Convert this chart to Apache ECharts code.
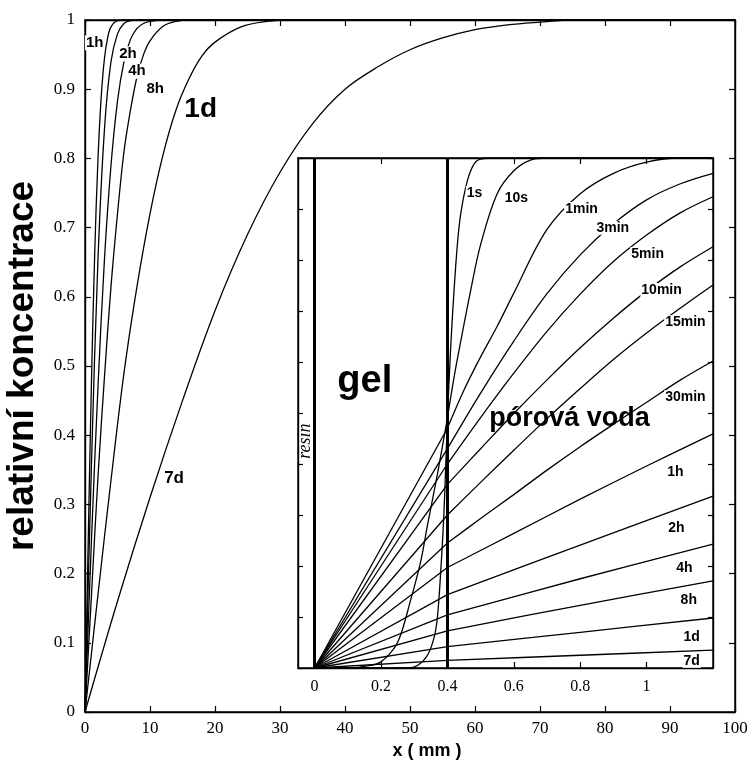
<!DOCTYPE html>
<html>
<head>
<meta charset="utf-8">
<script src="https://cdn.jsdelivr.net/npm/echarts@6/dist/echarts.min.js"></script>
<style>
  html, body { margin: 0; padding: 0; background: #fff; }
  #chart { width: 754px; height: 762px; }
</style>
</head>
<body>
<div id="chart"></div>
<script>
// ---- main panel: relative concentration vs x (mm) ----
const main1h = [[0,0],[0.5,0.25],[1,0.48],[1.5,0.665],[2,0.8],[2.5,0.89],[3,0.945],[3.5,0.975],[4,0.99],[5,0.999],[6,1],[100,1]];
const main2h = [[0,0],[1,0.36],[2,0.655],[3,0.843],[4,0.94],[5,0.98],[6,0.995],[7,0.999],[8,1],[100,1]];
const main4h = [[0,0],[1,0.25],[2,0.47],[3,0.655],[4,0.79],[5,0.883],[6,0.94],[7,0.972],[8,0.988],[9,0.995],[10,0.998],[12,1],[100,1]];
const main8h = [[0,0],[1,0.17],[2,0.34],[3,0.485],[4,0.615],[5,0.72],[6,0.81],[7,0.87],[8,0.918],[9,0.95],[10,0.97],[12,0.991],[14,0.998],[16,1],[100,1]];
const main1d = [[0,0],[2,0.17],[4,0.335],[6,0.49],[8,0.615],[10,0.72],[12,0.805],[14,0.87],[16,0.915],[18,0.948],[20,0.968],[24,0.99],[28,0.998],[32,1],[100,1]];
const main7d = [[0,0],[5,0.16],[10,0.31],[15,0.45],[20,0.58],[25,0.69],[30,0.78],[35,0.85],[40,0.9],[45,0.932],[50,0.957],[55,0.974],[60,0.986],[65,0.993],[70,0.997],[75,1],[100,1]];
const mainCurves = [main1h, main2h, main4h, main8h, main1d, main7d];

const mainLabels = ['1h', '2h', '4h', '8h', '1d', '7d'];
const mainLabelAt = [[1.5,0.967],[6.6,0.951],[8.0,0.926],[10.8,0.9],[17.8,0.871],[13.7,0.338]];
const mainLabelSize = [15, 15, 15, 15, 28, 17];

// ---- inset: resin | gel (0-0.4 mm) | pore water ----
const insetLabels = ['1s','10s','1min','3min','5min','10min','15min','30min','1h','2h','4h','8h','1d','7d'];
const insetLabelAt = [[0.482,0.931],[0.608,0.922],[0.804,0.9],[0.898,0.863],[1.003,0.812],[1.045,0.741],[1.117,0.678],
  [1.117,0.531],[1.087,0.384],[1.09,0.275],[1.114,0.196],[1.127,0.133],[1.136,0.061],[1.136,0.014]];
// concentration at the gel / pore water interface (x = 0.4)
const insetInterface = [0.49,0.49,0.47,0.43,0.40,0.36,0.30,0.245,0.197,0.144,0.104,0.073,0.042,0.015];

const gel1s  = [[0,0],[0.28,0],[0.31,0.005],[0.34,0.025],[0.36,0.06],[0.37,0.1],[0.38,0.19],[0.39,0.31],[0.4,0.49]];
const gel10s = [[0,0],[0.1,0],[0.15,0.003],[0.2,0.012],[0.25,0.05],[0.29,0.135],[0.32,0.21],[0.34,0.28],[0.37,0.38],[0.4,0.49]];

const pore1s    = [[0.4,0.49],[0.41,0.63],[0.42,0.74],[0.43,0.83],[0.44,0.89],[0.46,0.955],[0.48,0.988],[0.5,0.998],[0.55,1],[1.2,1]];
const pore10s   = [[0.4,0.49],[0.42,0.57],[0.44,0.64],[0.47,0.74],[0.5,0.83],[0.55,0.93],[0.6,0.975],[0.65,0.996],[0.7,1],[1.2,1]];
const pore1min  = [[0.4,0.47],[0.45,0.545],[0.5,0.61],[0.55,0.67],[0.6,0.735],[0.7,0.86],[0.8,0.93],[0.9,0.97],[1.0,0.992],[1.1,1],[1.2,1]];
const pore3min  = [[0.4,0.43],[0.5,0.539],[0.6,0.641],[0.7,0.734],[0.8,0.81],[0.9,0.871],[1.0,0.918],[1.1,0.949],[1.2,0.97]];
const pore5min  = [[0.4,0.40],[0.5,0.491],[0.6,0.578],[0.7,0.66],[0.8,0.733],[0.9,0.797],[1.0,0.849],[1.1,0.892],[1.2,0.924]];
const pore10min = [[0.4,0.36],[0.5,0.43],[0.6,0.499],[0.7,0.565],[0.8,0.628],[0.9,0.686],[1.0,0.739],[1.1,0.786],[1.2,0.826]];
const pore15min = [[0.4,0.30],[0.5,0.364],[0.6,0.427],[0.7,0.489],[0.8,0.548],[0.9,0.605],[1.0,0.657],[1.1,0.705],[1.2,0.751]];
const pore30min = [[0.4,0.245],[0.5,0.293],[0.6,0.34],[0.7,0.388],[0.8,0.434],[0.9,0.478],[1.0,0.521],[1.1,0.564],[1.2,0.602]];
const pore1h    = [[0.4,0.197],[0.6,0.264],[0.8,0.331],[1.0,0.396],[1.2,0.459]];
const pore2h    = [[0.4,0.144],[0.8,0.241],[1.2,0.337]];
const pore4h    = [[0.4,0.104],[0.8,0.175],[1.2,0.243]];
const pore8h    = [[0.4,0.073],[0.8,0.123],[1.2,0.171]];
const pore1d    = [[0.4,0.042],[0.8,0.07],[1.2,0.098]];
const pore7d    = [[0.4,0.015],[0.8,0.025],[1.2,0.035]];
const poreCurves = [pore1s, pore10s, pore1min, pore3min, pore5min, pore10min, pore15min, pore30min,
  pore1h, pore2h, pore4h, pore8h, pore1d, pore7d];

const insetXTicks = [0, 0.2, 0.4, 0.6, 0.8, 1];
const gelBoundaries = [0, 0.4];

const chart = echarts.init(document.getElementById('chart'), null, { renderer: 'canvas' });

const serif = 'Liberation Serif';
const sans = 'Liberation Sans';
const black = '#000';

function valueAxis(grid, pos, min, max, interval, showLabel, extra) {
  return Object.assign({
    type: 'value', gridIndex: grid, position: pos, min: min, max: max, interval: interval,
    axisLine: { show: true, onZero: false, lineStyle: { color: black, width: 1.4 } },
    axisTick: { show: true, inside: true, length: 6, lineStyle: { color: black, width: 1.2 } },
    axisLabel: { show: showLabel, color: black, fontFamily: serif, fontSize: 17 },
    splitLine: { show: false }
  }, extra || {});
}

function textLabel(t, size, extra) {
  return Object.assign({
    show: true, position: 'inside', formatter: t, color: black, fontFamily: sans,
    fontWeight: 'bold', fontSize: size, textBorderWidth: 0, textBorderColor: 'transparent', opacity: 1
  }, extra || {});
}

const series = [];

mainCurves.forEach((d) => {
  series.push({
    type: 'line', xAxisIndex: 0, yAxisIndex: 0, data: d, smooth: 0.35,
    showSymbol: false, symbol: 'none', lineStyle: { color: black, width: 1.3 }, z: 3, silent: true
  });
});

series.push({
  type: 'scatter', xAxisIndex: 0, yAxisIndex: 0, symbolSize: 0, z: 6, silent: true,
  itemStyle: { color: black, opacity: 1 },
  data: mainLabels.map((t, i) => ({
    value: mainLabelAt[i], name: t,
    label: textLabel(t, mainLabelSize[i], { backgroundColor: '#fff', padding: [0, 1] })
  }))
});

// inset gel segments: straight lines from resin to interface (curved for 1s, 10s)
insetLabels.forEach((t, i) => {
  let gel;
  if (i === 0) gel = gel1s;
  else if (i === 1) gel = gel10s;
  else gel = [[0, 0], [0.4, insetInterface[i]]];
  series.push({
    type: 'line', xAxisIndex: 2, yAxisIndex: 2, data: gel, smooth: i < 2 ? 0.3 : false,
    showSymbol: false, symbol: 'none', lineStyle: { color: black, width: 1.3 }, z: 3, silent: true
  });
  series.push({
    type: 'line', xAxisIndex: 2, yAxisIndex: 2, data: poreCurves[i], smooth: 0.35,
    showSymbol: false, symbol: 'none', lineStyle: { color: black, width: 1.3 }, z: 3, silent: true
  });
});

// resin and gel boundaries
series.push({
  type: 'line', xAxisIndex: 2, yAxisIndex: 2, data: [], silent: true,
  markLine: {
    silent: true, symbol: 'none', label: { show: false },
    lineStyle: { color: black, width: 3, type: 'solid' },
    data: gelBoundaries.map(v => ({ xAxis: v }))
  }
});

series.push({
  type: 'scatter', xAxisIndex: 2, yAxisIndex: 2, symbolSize: 0, z: 6, silent: true,
  itemStyle: { color: black, opacity: 1 },
  data: insetLabels.map((t, i) => ({
    value: insetLabelAt[i], name: t,
    label: textLabel(t, 14, { backgroundColor: '#fff', padding: [0, 1] })
  })).concat([
    { value: [0.151, 0.561], name: 'gel', label: textLabel('gel', 38) },
    { value: [0.768, 0.49], name: 'pórová voda', label: textLabel('pórová voda', 27) },
    { value: [-0.027, 0.445], name: 'resin',
      label: textLabel('resin', 18, { rotate: 90, fontFamily: serif, fontWeight: 'normal', fontStyle: 'italic' }) }
  ])
});

const option = {
  backgroundColor: '#fff',
  animation: false,
  grid: [
    { left: 85, top: 20, width: 650, height: 692, show: true, borderColor: black, borderWidth: 1.4,
      containLabel: false, outerBoundsMode: 'none' },
    { left: 298, top: 158, width: 415, height: 510, show: true, borderColor: black, borderWidth: 1.4,
      backgroundColor: '#fff', containLabel: false, outerBoundsMode: 'none' }
  ],
  xAxis: [
    valueAxis(0, 'bottom', 0, 100, 10, true, {
      name: 'x ( mm )', nameLocation: 'middle', nameGap: 30,
      nameTextStyle: { color: black, fontFamily: sans, fontWeight: 'bold', fontSize: 18, padding: [0, 0, 0, 34] },
      axisLabel: { show: true, color: black, fontFamily: serif, fontSize: 17, margin: 8 }
    }),
    valueAxis(0, 'top', 0, 100, 10, false),
    valueAxis(1, 'bottom', -0.05, 1.2, null, true, {
      axisTick: { show: true, inside: true, length: 6, customValues: insetXTicks, lineStyle: { color: black, width: 1.2 } },
      axisLabel: { show: true, color: black, fontFamily: serif, fontSize: 16, margin: 11, customValues: insetXTicks }
    }),
    valueAxis(1, 'top', -0.05, 1.2, null, false, {
      axisTick: { show: true, inside: true, length: 6, customValues: insetXTicks, lineStyle: { color: black, width: 1.2 } }
    })
  ],
  yAxis: [
    valueAxis(0, 'left', 0, 1, 0.1, true, {
      name: 'relativní koncentrace', nameLocation: 'middle', nameGap: 44,
      nameTextStyle: { color: black, fontFamily: sans, fontWeight: 'bold', fontSize: 37 },
      axisLabel: { show: true, color: black, fontFamily: serif, fontSize: 17, margin: 10 }
    }),
    valueAxis(0, 'right', 0, 1, 0.1, false),
    valueAxis(1, 'left', 0, 1, 0.1, false, {
      axisTick: { show: true, inside: true, length: 5, lineStyle: { color: black, width: 1.2 } }
    }),
    valueAxis(1, 'right', 0, 1, 0.1, false, {
      axisTick: { show: true, inside: true, length: 5, lineStyle: { color: black, width: 1.2 } }
    })
  ],
  series: series
};

chart.setOption(option);
</script>
</body>
</html>
